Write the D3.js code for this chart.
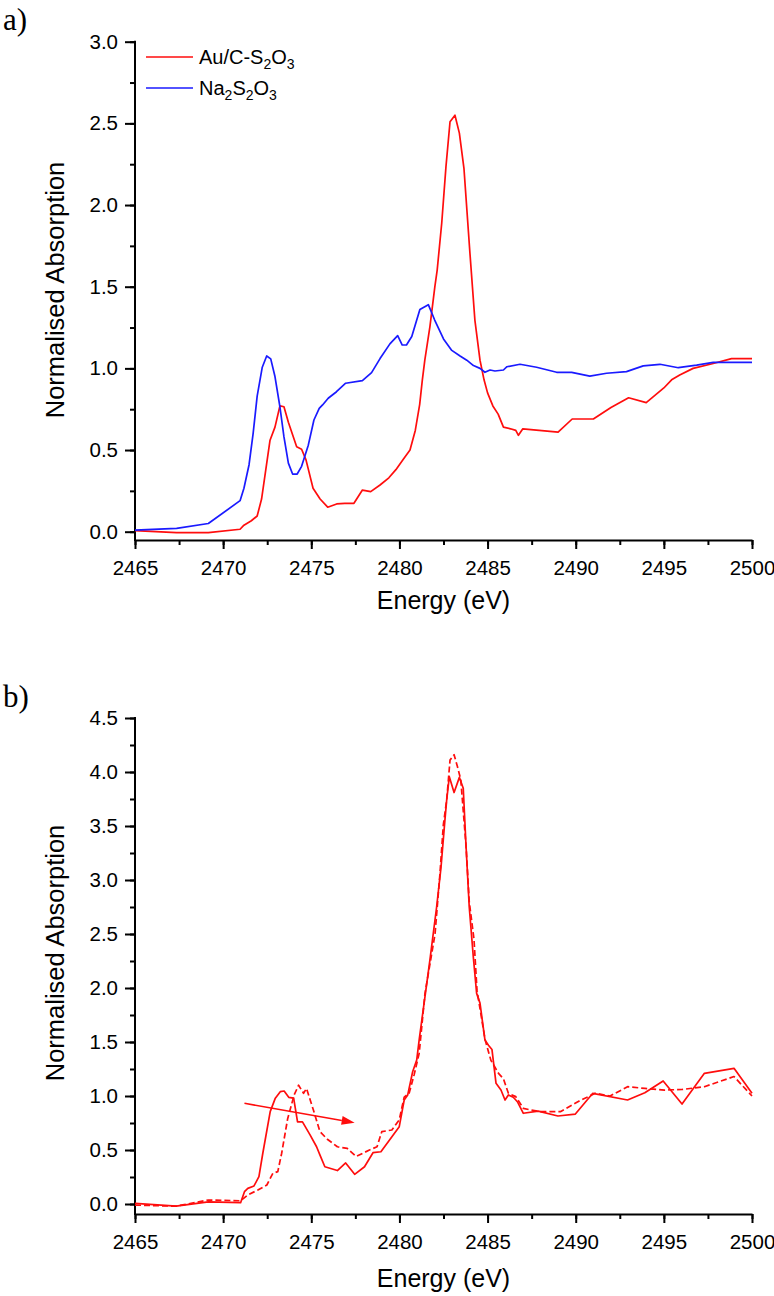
<!DOCTYPE html>
<html>
<head>
<meta charset="utf-8">
<script src="https://cdn.jsdelivr.net/npm/d3@7/dist/d3.min.js"></script>
<style>
  html, body { margin: 0; padding: 0; background: #fff; }
  svg { display: block; }
</style>
</head>
<body>
<div id="chart"></div>
<script>
// ---------- DATA ----------
const xTicks = [2465, 2470, 2475, 2480, 2485, 2490, 2495, 2500];
const yTicksA = [0.0, 0.5, 1.0, 1.5, 2.0, 2.5, 3.0];
const yTicksB = [0.0, 0.5, 1.0, 1.5, 2.0, 2.5, 3.0, 3.5, 4.0, 4.5];

// Panel a) Au/C-S2O3 (red)
const auE = [2465, 2467.36, 2469.16, 2470.96, 2471.18, 2471.6, 2471.93, 2472.18, 2472.66, 2472.94, 2473.22, 2473.45, 2473.7, 2474.17, 2474.45, 2474.7, 2475.1, 2475.5, 2475.93, 2476.44, 2476.9, 2477.42, 2477.9, 2478.37, 2478.9, 2479.4, 2479.8, 2480.2, 2480.6, 2480.9, 2481.15, 2481.3, 2481.44, 2481.73, 2482.01, 2482.14, 2482.4, 2482.64, 2482.87, 2483.15, 2483.4, 2483.66, 2484.0, 2484.28, 2484.57, 2484.8, 2485.0, 2485.3, 2485.6, 2485.9, 2486.3, 2486.6, 2486.75, 2487.0, 2489.0, 2489.8, 2491.0, 2492.0, 2493.0, 2494.0, 2495.0, 2495.44, 2495.9, 2496.66, 2497.8, 2498.84, 2500];
const auAbs = [0.006, -0.006, -0.006, 0.015, 0.04, 0.067, 0.096, 0.2, 0.56, 0.64, 0.77, 0.765, 0.67, 0.52, 0.505, 0.44, 0.266, 0.2, 0.15, 0.17, 0.174, 0.174, 0.255, 0.245, 0.286, 0.33, 0.38, 0.44, 0.5, 0.62, 0.78, 0.929, 1.05, 1.255, 1.5, 1.6, 1.89, 2.235, 2.51, 2.55, 2.44, 2.225, 1.705, 1.296, 1.05, 0.93, 0.85, 0.77, 0.72, 0.64, 0.63, 0.62, 0.59, 0.63, 0.61, 0.69, 0.69, 0.76, 0.82, 0.79, 0.88, 0.93, 0.96, 1.0, 1.03, 1.06, 1.06];

// Panel a) Na2S2O3 (blue)
const naE = [2465, 2467.36, 2469.16, 2470.96, 2471.18, 2471.47, 2471.7, 2471.93, 2472.22, 2472.47, 2472.7, 2472.94, 2473.22, 2473.45, 2473.7, 2473.94, 2474.2, 2474.45, 2474.83, 2475.15, 2475.45, 2475.64, 2475.96, 2476.43, 2476.95, 2477.9, 2478.42, 2478.9, 2479.46, 2479.9, 2480.16, 2480.4, 2480.7, 2481.16, 2481.64, 2482.0, 2482.5, 2482.97, 2483.44, 2483.82, 2484.2, 2484.57, 2484.85, 2485.14, 2485.42, 2485.9, 2486.1, 2486.84, 2487.78, 2488.92, 2489.77, 2490.8, 2491.75, 2492.88, 2493.83, 2494.78, 2495.82, 2496.86, 2497.8, 2500];
const naAbs = [0.01, 0.02, 0.05, 0.19, 0.266, 0.41, 0.60, 0.83, 1.007, 1.076, 1.058, 0.95, 0.765, 0.58, 0.42, 0.353, 0.353, 0.40, 0.53, 0.684, 0.755, 0.776, 0.817, 0.857, 0.909, 0.925, 0.974, 1.06, 1.15, 1.2, 1.143, 1.143, 1.195, 1.36, 1.39, 1.296, 1.18, 1.11, 1.076, 1.05, 1.017, 1.0, 0.976, 0.99, 0.984, 0.99, 1.01, 1.025, 1.007, 0.976, 0.975, 0.953, 0.97, 0.98, 1.015, 1.025, 1.004, 1.02, 1.037, 1.037];

// Panel b) solid
const solidE = [2465, 2467.33, 2469.16, 2470.99, 2471.21, 2471.4, 2471.75, 2472.03, 2472.25, 2472.67, 2472.96, 2473.24, 2473.46, 2473.72, 2474.0, 2474.22, 2474.5, 2474.93, 2475.3, 2475.5, 2475.77, 2476.48, 2476.95, 2477.46, 2478.02, 2478.5, 2478.95, 2479.99, 2480.27, 2480.47, 2480.75, 2480.98, 2481.12, 2481.73, 2482.11, 2482.36, 2482.58, 2482.68, 2482.83, 2483.1, 2483.4, 2483.62, 2483.78, 2483.96, 2484.19, 2484.38, 2484.57, 2484.85, 2485.05, 2485.25, 2485.48, 2485.76, 2485.99, 2486.18, 2486.46, 2486.69, 2487.03, 2487.87, 2488.99, 2489.98, 2490.97, 2492.94, 2493.92, 2494.96, 2496.03, 2497.3, 2498.98, 2500];
const solidAbs = [0.006, -0.02, 0.02, 0.012, 0.114, 0.145, 0.167, 0.253, 0.47, 0.855, 0.98, 1.04, 1.046, 0.988, 0.98, 0.76, 0.76, 0.64, 0.53, 0.45, 0.345, 0.31, 0.38, 0.275, 0.345, 0.475, 0.484, 0.716, 0.963, 1.01, 1.225, 1.333, 1.52, 2.26, 2.75, 3.12, 3.555, 3.74, 3.957, 3.81, 3.95, 3.85, 3.31, 2.75, 2.29, 1.95, 1.86, 1.52, 1.47, 1.43, 1.117, 1.056, 0.963, 1.01, 0.988, 0.947, 0.84, 0.86, 0.815, 0.833, 1.025, 0.963, 1.03, 1.139, 0.926, 1.21, 1.256, 1.025];

// Panel b) dashed
const dashE = [2465, 2467.33, 2469.16, 2470.99, 2471.4, 2471.97, 2472.48, 2472.82, 2473.1, 2473.32, 2473.66, 2474.03, 2474.28, 2474.56, 2474.73, 2475.12, 2475.49, 2475.91, 2476.48, 2477.04, 2477.55, 2478.3, 2478.73, 2479.0, 2479.57, 2479.99, 2480.27, 2480.55, 2480.84, 2481.12, 2481.45, 2482.02, 2482.3, 2482.49, 2482.68, 2482.87, 2483.1, 2483.29, 2483.48, 2483.78, 2483.96, 2484.23, 2484.4, 2484.86, 2485.19, 2485.62, 2485.9, 2486.18, 2486.6, 2487.03, 2487.45, 2488.01, 2489.13, 2490.12, 2491.1, 2491.95, 2492.94, 2493.92, 2495.04, 2496.03, 2497.3, 2498.98, 2500];
const dashAbs = [-0.01, -0.02, 0.037, 0.03, 0.083, 0.13, 0.176, 0.284, 0.3, 0.47, 0.79, 1.01, 1.1, 1.025, 1.07, 0.87, 0.67, 0.6, 0.53, 0.515, 0.44, 0.5, 0.53, 0.67, 0.685, 0.78, 0.99, 1.025, 1.2, 1.395, 1.95, 2.5, 3.06, 3.51, 3.74, 4.11, 4.16, 4.05, 3.93, 3.31, 2.8, 2.45, 1.98, 1.52, 1.33, 1.21, 1.16, 1.025, 0.994, 0.886, 0.87, 0.855, 0.855, 0.947, 1.025, 1.0, 1.086, 1.07, 1.055, 1.06, 1.086, 1.18, 1.0];

// Arrow annotation in panel b) (data coords: energy, absorption)
const arrowFrom = [2471.21, 0.932];
const arrowTo = [2477.46, 0.753];

// ---------- DRAWING ----------
const W = 774, H = 1296;
const RED = "#ff0d0d", BLUE = "#1a1aff";
const INK = "#000";
const FONT = "'Liberation Sans', Arial, sans-serif";

const svg = d3.select("#chart").append("svg")
  .attr("width", W).attr("height", H)
  .attr("viewBox", `0 0 ${W} ${H}`);
svg.append("rect").attr("width", W).attr("height", H).attr("fill", "#fff");

function panel(opts) {
  const x = d3.scaleLinear().domain([2465, 2500]).range([135, 752]);
  const y = d3.scaleLinear().domain([0, opts.yMax]).range([opts.y0, opts.yTop]);
  const axisY = opts.axisY; // pixel y of x-axis line
  const g = svg.append("g");

  // minor ticks x
  const minorX = d3.range(2465, 2500.01, 2.5);
  g.append("g").attr("transform", `translate(0,${axisY})`)
    .call(d3.axisBottom(x).tickValues(minorX).tickSize(5).tickFormat("").tickSizeOuter(0))
    .call(a => a.select(".domain").remove())
    .call(a => a.selectAll("line").attr("stroke", INK).attr("stroke-width", 2));
  // major x
  const gx = g.append("g").attr("transform", `translate(0,${axisY})`)
    .call(d3.axisBottom(x).tickValues(xTicks).tickSize(9).tickPadding(11).tickFormat(d3.format("d")).tickSizeOuter(0));
  gx.select(".domain").attr("stroke", INK).attr("stroke-width", 2);
  gx.selectAll("line").attr("stroke", INK).attr("stroke-width", 2);
  gx.selectAll("text").attr("font-size", 20.5).attr("fill", INK).attr("font-family", FONT);

  // y axis
  const yTicks = opts.yTicks;
  const minorY = d3.range(0, opts.yMax + 0.001, 0.25);
  g.append("g").attr("transform", `translate(135,0)`)
    .call(d3.axisLeft(y).tickValues(minorY).tickSize(5).tickFormat("").tickSizeOuter(0))
    .call(a => a.select(".domain").remove())
    .call(a => a.selectAll("line").attr("stroke", INK).attr("stroke-width", 2));
  const gy = g.append("g").attr("transform", `translate(135,0)`)
    .call(d3.axisLeft(y).tickValues(yTicks).tickSize(10).tickPadding(7).tickFormat(d3.format(".1f")).tickSizeOuter(0));
  gy.select(".domain").remove();
  gy.selectAll("line").attr("stroke", INK).attr("stroke-width", 2);
  gy.selectAll("text").attr("font-size", 20.5).attr("fill", INK).attr("font-family", FONT);
  g.append("line").attr("x1", 135).attr("x2", 135)
    .attr("y1", y(opts.yMax) - 1).attr("y2", axisY + 1)
    .attr("stroke", INK).attr("stroke-width", 2);

  // titles
  g.append("text").attr("x", 443.5).attr("y", opts.xTitleY)
    .attr("text-anchor", "middle").attr("font-family", FONT).attr("font-size", 25)
    .attr("fill", INK).text("Energy (eV)");
  g.append("text").attr("transform", `translate(64,${opts.yTitleY}) rotate(-90)`)
    .attr("text-anchor", "middle").attr("font-family", FONT).attr("font-size", 25.5)
    .attr("fill", INK).text("Normalised Absorption");

  // panel letter
  g.append("text").attr("x", 3).attr("y", opts.letterY)
    .attr("font-family", "'Liberation Serif', 'Times New Roman', serif")
    .attr("font-size", 31).attr("fill", INK).text(opts.letter);

  return { x, y, g };
}

function drawLine(p, E, A, color, dash) {
  const pts = E.map((e, i) => [e, A[i]]);
  const line = d3.line().x(d => p.x(d[0])).y(d => p.y(d[1]));
  p.g.append("path").datum(pts).attr("d", line)
    .attr("fill", "none").attr("stroke", color).attr("stroke-width", 1.7)
    .attr("stroke-linejoin", "round")
    .attr("stroke-dasharray", dash || null);
}

// Panel a
const pa = panel({ yMax: 3.0, y0: 531.7, yTop: 41.7, axisY: 540, yTicks: yTicksA,
  xTitleY: 609, yTitleY: 290, letter: "a)", letterY: 30 });
drawLine(pa, auE, auAbs, RED);
drawLine(pa, naE, naAbs, BLUE);

// legend
const legendColors = [RED, BLUE];
const legendY = [57, 88];
const legParts = [
  [["Au/C-S", false], ["2", true], ["O", false], ["3", true]],
  [["Na", false], ["2", true], ["S", false], ["2", true], ["O", false], ["3", true]]
];
legParts.forEach((parts, i) => {
  const ly = legendY[i];
  svg.append("line").attr("x1", 146).attr("x2", 193).attr("y1", ly).attr("y2", ly)
    .attr("stroke", legendColors[i]).attr("stroke-width", 1.7);
  const t = svg.append("text").attr("x", 199).attr("y", ly + 7)
    .attr("font-family", FONT).attr("font-size", 20).attr("fill", INK);
  let prevSub = false;
  parts.forEach(([s, sub]) => {
    const ts = t.append("tspan").text(s);
    if (sub) ts.attr("font-size", 14).attr("dy", prevSub ? 0 : 5);
    else ts.attr("dy", prevSub ? -5 : 0);
    prevSub = sub;
  });
});

// Panel b
const pb = panel({ yMax: 4.5, y0: 1204, yTop: 718, axisY: 1214, yTicks: yTicksB,
  xTitleY: 1287, yTitleY: 953, letter: "b)", letterY: 707 });
drawLine(pb, solidE, solidAbs, RED);
drawLine(pb, dashE, dashAbs, RED, "6,3");

// arrow
{
  const x1 = pb.x(arrowFrom[0]), y1 = pb.y(arrowFrom[1]);
  const x2 = pb.x(arrowTo[0]), y2 = pb.y(arrowTo[1]);
  const ang = Math.atan2(y2 - y1, x2 - x1);
  const L = 13, Wd = 4.5;
  const bx = x2 - L * Math.cos(ang), by = y2 - L * Math.sin(ang);
  pb.g.append("line").attr("x1", x1).attr("y1", y1).attr("x2", bx).attr("y2", by)
    .attr("stroke", RED).attr("stroke-width", 1.5);
  const px = -Math.sin(ang), py = Math.cos(ang);
  pb.g.append("path")
    .attr("d", `M${x2},${y2}L${bx + px * Wd},${by + py * Wd}L${bx - px * Wd},${by - py * Wd}Z`)
    .attr("fill", RED);
}
</script>
</body>
</html>
